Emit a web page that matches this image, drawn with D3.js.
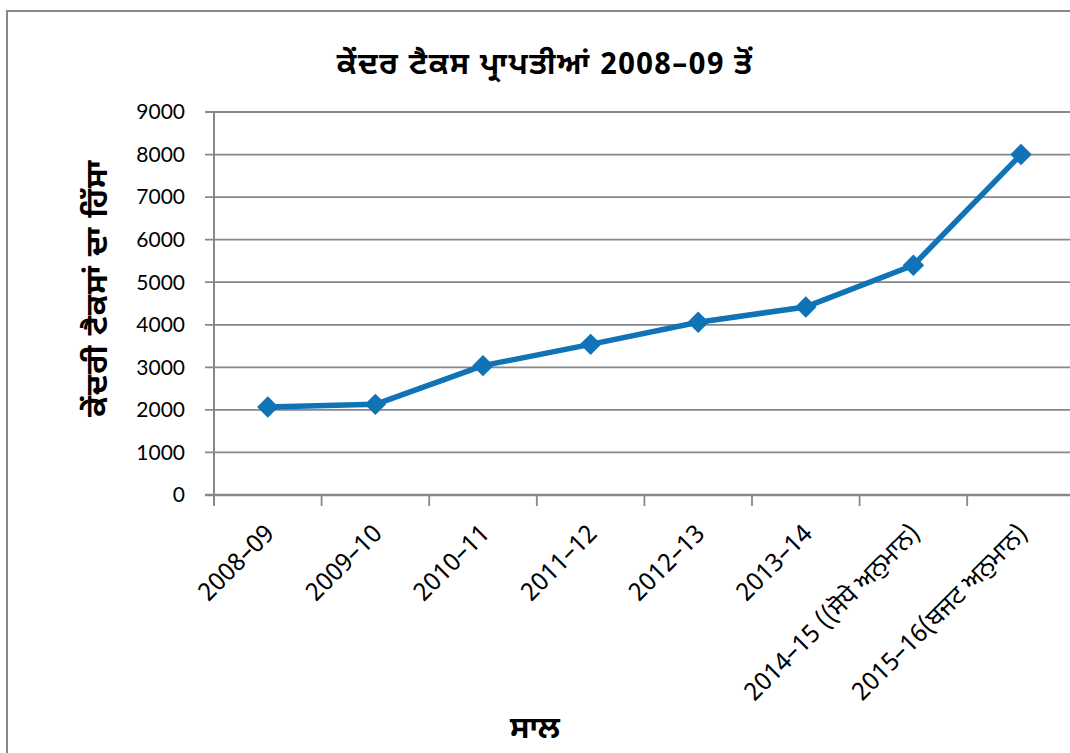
<!DOCTYPE html>
<html>
<head>
<meta charset="utf-8">
<script src="https://cdn.jsdelivr.net/npm/d3@7"></script>
<style>
  html, body { margin: 0; padding: 0; background: #fff; }
  svg { display: block; }
</style>
</head>
<body>
<svg id="chart" width="1070" height="753"></svg>
<script>
const categories = ["2008–09", "2009–10", "2010–11", "2011–12", "2012–13", "2013–14", "2014–15 ((ਸੋਧੇ ਅਨੁਮਾਨ)", "2015–16(ਬਜਟ ਅਨੁਮਾਨ)"];
const values = [2070, 2130, 3040, 3540, 4060, 4420, 5400, 8000];
const yTicks = [0, 1000, 2000, 3000, 4000, 5000, 6000, 7000, 8000, 9000];
const titleText = "ਕੇਂਦਰ ਟੈਕਸ ਪ੍ਰਾਪਤੀਆਂ 2008–09 ਤੋਂ";
const yLabelText = "ਕੇਂਦਰੀ ਟੈਕਸਾਂ ਦਾ ਹਿੱਸਾ";
const xLabelText = "ਸਾਲ";

(function () {
const gFont = "'Noto Sans Gurmukhi', 'Noto Sans', Lato, sans-serif";
const nFont = "Lato, 'Noto Sans', sans-serif";
const gray = "#85888c";
const blue = "#0f73b6";

const svg = d3.select("#chart");

// outer frame (extends beyond the viewport on right/bottom)
svg.append("rect").attr("x", 7).attr("y", 11).attr("width", 1200).attr("height", 900)
  .attr("fill", "none").attr("stroke", gray).attr("stroke-width", 2);

const pLeft = 214, pTop = 112, pBottom = 495, pRight = 214 + 8 * 107.6;

const x = d3.scaleBand().domain(categories).range([pLeft, pRight]).padding(0);
const y = d3.scaleLinear().domain([0, 9000]).range([pBottom, pTop]);

// gridlines
svg.append("g").selectAll("line").data(yTicks).join("line")
  .attr("x1", pLeft - 9).attr("x2", pRight)
  .attr("y1", d => y(d)).attr("y2", d => y(d))
  .attr("stroke", gray).attr("stroke-width", d => d === 0 ? 2.5 : 1.8);

// y axis line
svg.append("line").attr("x1", pLeft).attr("x2", pLeft).attr("y1", y(9000)).attr("y2", pBottom + 11)
  .attr("stroke", gray).attr("stroke-width", 2);

// x ticks at band boundaries
const boundaries = categories.map(c => x(c)).concat([pRight]);
svg.append("g").selectAll("line").data(boundaries.slice(1)).join("line")
  .attr("x1", d => d).attr("x2", d => d).attr("y1", pBottom).attr("y2", pBottom + 11)
  .attr("stroke", gray).attr("stroke-width", 1.8);

// y tick labels
svg.append("g").selectAll("text").data(yTicks).join("text")
  .attr("x", 185).attr("y", d => y(d)).attr("dy", "0.35em")
  .attr("text-anchor", "end").attr("font-family", nFont).attr("font-size", 21)
  .attr("fill", "#000").text(d => d);

// x tick labels
svg.append("g").selectAll("text").data(categories).join("text")
  .attr("transform", d => `translate(${x(d) + x.bandwidth() / 2 + 8},${pBottom + 40}) rotate(-45)`)
  .attr("text-anchor", "end").attr("font-family", gFont).attr("font-size", 25)
  .attr("fill", "#000").text(d => d);

// line
const line = d3.line().x((d, i) => x(categories[i]) + x.bandwidth() / 2).y(d => y(d));
svg.append("path").datum(values).attr("d", line)
  .attr("fill", "none").attr("stroke", blue).attr("stroke-width", 5.5).attr("stroke-linejoin", "round");

// diamond markers
const sym = d3.symbol().type(d3.symbolSquare).size(230);
svg.append("g").selectAll("path").data(values).join("path")
  .attr("d", sym)
  .attr("transform", (d, i) => `translate(${x(categories[i]) + x.bandwidth() / 2},${y(d)}) rotate(45)`)
  .attr("fill", blue);

// title
svg.append("text").attr("x", 545).attr("y", 74).attr("text-anchor", "middle")
  .attr("font-family", gFont).attr("font-size", 30).attr("font-weight", "bold")
  .attr("letter-spacing", 1.5)
  .text(titleText);

// y label
svg.append("text").attr("transform", "translate(107,288) rotate(-90)").attr("text-anchor", "middle")
  .attr("font-family", gFont).attr("font-size", 31).attr("font-weight", "bold")
  .attr("letter-spacing", 1)
  .text(yLabelText);

// x label
svg.append("text").attr("x", 535).attr("y", 738).attr("text-anchor", "middle")
  .attr("font-family", gFont).attr("font-size", 31).attr("font-weight", "bold")
  .text(xLabelText);
})();
</script>
</body>
</html>
